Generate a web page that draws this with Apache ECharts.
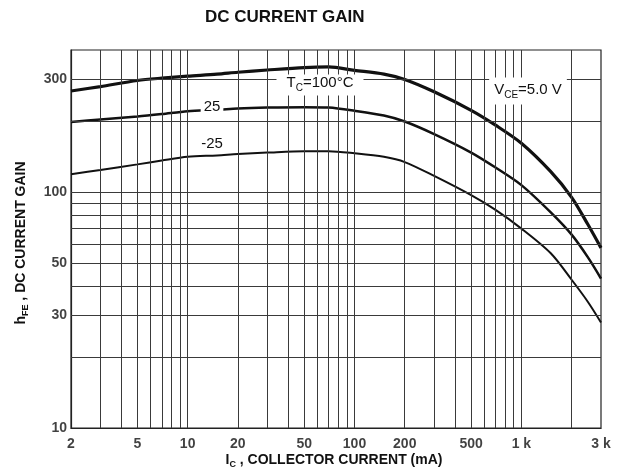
<!DOCTYPE html>
<html>
<head>
<meta charset="utf-8">
<script src="https://cdn.jsdelivr.net/npm/echarts@6/dist/echarts.min.js"></script>
<style>
  html, body { margin: 0; padding: 0; background: #fff; }
  #chart { width: 620px; height: 475px; }
</style>
</head>
<body>
<div id="chart"></div>
<script>
// collector current (mA)
const currents = [2, 3, 5, 7, 10, 15, 20, 30, 50, 70, 100, 150, 200, 300, 500, 700, 1000, 1500, 2000, 2500, 3000];
// hFE for Tc = 100, 25, -25 °C
const gainHot = [268, 280, 297, 304, 310, 316, 322, 329, 337, 339, 328, 316, 300, 266, 222, 192, 161, 122, 95, 73, 58];
const gainRoom = [198, 203, 209, 214, 220, 223, 226, 228, 229, 228, 221, 211, 199, 176, 147, 127, 107, 82, 66, 53, 43];
const gainCold = [119, 124, 131, 136, 141, 143, 145, 147, 149, 149, 146, 141, 134, 117, 97, 84, 70, 55, 42.5, 34.3, 28];

const xTickValues = [2, 5, 10, 20, 50, 100, 200, 500, 1000, 3000];
const xTickLabels = ['2', '5', '10', '20', '50', '100', '200', '500', '1 k', '3 k'];
const yTickValues = [10, 30, 50, 100, 300];
const yTickLabels = ['10', '30', '50', '100', '300'];
const xGridValues = [3, 4, 5, 6, 7, 8, 9, 10, 20, 30, 40, 50, 60, 70, 80, 90, 100,
  200, 300, 400, 500, 600, 700, 800, 900, 1000, 2000];
const yGridValues = [20, 30, 40, 50, 60, 70, 80, 90, 100, 200, 300];

const FONT = '"Liberation Sans", Arial, sans-serif';

function pairs(ys) {
  return currents.map((x, i) => [x, ys[i]]);
}

const chart = echarts.init(document.getElementById('chart'), null, { renderer: 'canvas' });

const option = {
  animation: false,
  backgroundColor: '#fff',
  grid: {
    left: 71, right: 19, top: 50, bottom: 47,
    show: true, borderColor: '#222', borderWidth: 1.2,
    containLabel: false
  },
  xAxis: {
    type: 'log', logBase: 10, min: 2, max: 3000,
    axisLine: { show: true, lineStyle: { color: '#222', width: 1.2 } },
    axisTick: { show: false },
    axisLabel: { show: false },
    splitLine: { show: false }
  },
  yAxis: {
    type: 'log', logBase: 10, min: 10, max: 400,
    axisLine: { show: true, lineStyle: { color: '#222', width: 1.2 } },
    axisTick: { show: false },
    axisLabel: { show: false },
    splitLine: { show: false }
  },
  series: [
    {
      // grid lines of the log paper
      type: 'line', name: 'paper', data: [[2, 10]], symbol: 'none', z: 1,
      lineStyle: { width: 0 },
      markLine: {
        silent: true, symbol: ['none', 'none'], animation: false,
        label: { show: false },
        lineStyle: { type: 'solid', color: '#3a3a3a', width: 1 },
        data: xGridValues.map(v => ({ xAxis: v })).concat(yGridValues.map(v => ({ yAxis: v })))
      }
    },
    {
      type: 'line', name: '100', data: pairs(gainHot), smooth: 0.3, symbol: 'none', z: 3,
      lineStyle: { color: '#111', width: 3.2 }
    },
    {
      type: 'line', name: '25', data: pairs(gainRoom), smooth: 0.3, symbol: 'none', z: 3,
      lineStyle: { color: '#111', width: 2.5 }
    },
    {
      type: 'line', name: '-25', data: pairs(gainCold), smooth: 0.3, symbol: 'none', z: 3,
      lineStyle: { color: '#111', width: 2 }
    },
    {
      // x tick labels
      type: 'scatter', data: xTickValues.map(v => [v, 10]), symbolSize: 0, clip: false, z: 4,
      label: {
        show: true, position: 'bottom', distance: 9,
        formatter: p => xTickLabels[p.dataIndex],
        color: '#111', fontFamily: FONT, fontSize: 14, fontWeight: 'bold'
      }
    },
    {
      // y tick labels
      type: 'scatter', data: yTickValues.map(v => [2, v]), symbolSize: 0, clip: false, z: 4,
      label: {
        show: true, position: 'left', distance: 4,
        formatter: p => yTickLabels[p.dataIndex],
        color: '#111', fontFamily: FONT, fontSize: 14, fontWeight: 'bold'
      }
    }
  ],
  graphic: [
    {
      type: 'text', left: 205, top: 9,
      style: { text: 'DC CURRENT GAIN', fill: '#111', font: 'bold 17px ' + FONT }
    },
    {
      type: 'text', x: 334, y: 461, z: 100,
      style: {
        text: '{n|I}{s|C}{n| , COLLECTOR CURRENT (mA)}',
        align: 'center', verticalAlign: 'middle', fill: '#111',
        rich: {
          n: { fontFamily: FONT, fontSize: 14, fontWeight: 'bold', fill: '#111', verticalAlign: 'bottom', padding: [0, 0, 2, 0] },
          s: { fontFamily: FONT, fontSize: 9, fontWeight: 'bold', fill: '#111', verticalAlign: 'bottom' }
        }
      }
    },
    {
      type: 'text', x: 22, y: 243, rotation: Math.PI / 2, z: 100,
      style: {
        text: '{n|h}{s|FE}{n| , DC CURRENT GAIN}',
        align: 'center', verticalAlign: 'middle', fill: '#111',
        rich: {
          n: { fontFamily: FONT, fontSize: 14, fontWeight: 'bold', fill: '#111', verticalAlign: 'bottom', padding: [0, 0, 2, 0] },
          s: { fontFamily: FONT, fontSize: 9, fontWeight: 'bold', fill: '#111', verticalAlign: 'bottom' }
        }
      }
    },
    {
      type: 'text', x: 320, y: 85, z: 100,
      style: {
        text: '{n|T}{s|C}{n|=100°C}',
        align: 'center', verticalAlign: 'middle',
        backgroundColor: '#fff', padding: [1, 10, 2, 10],
        rich: {
          n: { fontFamily: FONT, fontSize: 15, fill: '#111', verticalAlign: 'bottom', padding: [0, 0, 3, 0] },
          s: { fontFamily: FONT, fontSize: 10, fill: '#111', verticalAlign: 'bottom' }
        }
      }
    },
    {
      type: 'text', x: 212, y: 107, z: 100,
      style: {
        text: '25', align: 'center', verticalAlign: 'middle',
        backgroundColor: '#fff', padding: [1, 3, 1, 3],
        fill: '#111', font: '15px ' + FONT
      }
    },
    {
      type: 'text', x: 212, y: 144, z: 100,
      style: {
        text: '-25', align: 'center', verticalAlign: 'middle',
        fill: '#111', font: '15px ' + FONT
      }
    },
    {
      type: 'text', x: 528, y: 91, z: 100,
      style: {
        text: '{n|V}{s|CE}{n|=5.0 V}',
        align: 'center', verticalAlign: 'middle',
        backgroundColor: '#fff', padding: [5, 5, 4, 5],
        rich: {
          n: { fontFamily: FONT, fontSize: 15, fill: '#111', verticalAlign: 'bottom', padding: [0, 0, 3, 0] },
          s: { fontFamily: FONT, fontSize: 10, fill: '#111', verticalAlign: 'bottom' }
        }
      }
    }
  ]
};

chart.setOption(option);
</script>
</body>
</html>
